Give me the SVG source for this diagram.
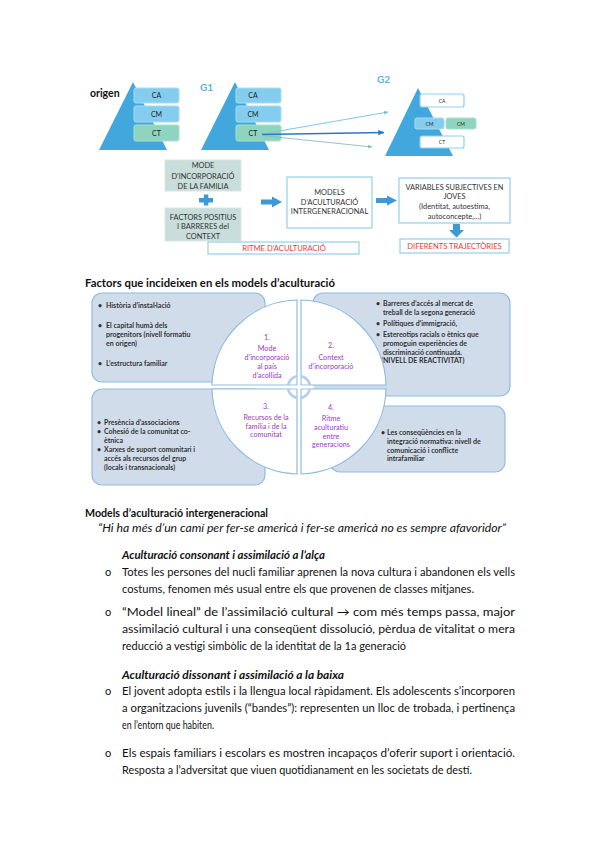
<svg xmlns="http://www.w3.org/2000/svg" width="599" height="848" viewBox="0 0 599 848">
<defs>
<style>
.t{font-family:Lato,"Liberation Sans",sans-serif;}
.tri{fill:#41a7dd;}
.bx{fill:#84cdef;stroke:#a8dcf3;stroke-width:1;}
.bg{fill:#8fd4be;stroke:#a9e0cd;stroke-width:1;}
.bw{fill:#ffffff;stroke:#8ccfee;stroke-width:1.2;}
.lbl{font-family:Lato,"Liberation Sans",sans-serif;font-size:7px;fill:#222;text-anchor:middle;}
.lbs{font-family:Lato,"Liberation Sans",sans-serif;font-size:5px;fill:#222;text-anchor:middle;}
.gb{fill:#c9ddda;stroke:#d7e6e4;stroke-width:1;}
.fb{fill:#ffffff;stroke:#9cd2ef;stroke-width:1.3;}
.ft{font-family:Lato,"Liberation Sans",sans-serif;font-size:7.4px;fill:#333;text-anchor:middle;}
.rt{font-family:Lato,"Liberation Sans",sans-serif;font-size:7.6px;fill:#ee3a3a;text-anchor:middle;}
.blk{fill:#3d9ad6;}
.pb{fill:#d1dcea;stroke:#8dbbdf;stroke-width:1.2;}
.q{fill:#ffffff;stroke:#8dbde0;stroke-width:1.2;}
.qt{font-family:Lato,"Liberation Sans",sans-serif;font-size:7.2px;fill:#9b38c9;text-anchor:middle;}
.bt{font-family:Lato,"Liberation Sans",sans-serif;font-size:7px;font-weight:bold;fill:#333;}
.body{font-family:Lato,Carlito,"Liberation Sans",sans-serif;font-size:11px;fill:#111;}
.h{font-family:Lato,Carlito,"Liberation Sans",sans-serif;font-size:11px;font-weight:bold;fill:#111;}
.hi{font-family:Lato,Carlito,"Liberation Sans",sans-serif;font-size:11px;font-weight:bold;font-style:italic;fill:#111;}
.it{font-family:Lato,Carlito,"Liberation Sans",sans-serif;font-size:11px;font-style:italic;fill:#111;}
</style>
<marker id="ah1" viewBox="0 0 10 10" refX="9" refY="5" markerWidth="5" markerHeight="5" orient="auto"><path d="M0,1 L10,5 L0,9 z" fill="#6ec1ea"/></marker>
<marker id="ah2" viewBox="0 0 10 10" refX="9" refY="5" markerWidth="4" markerHeight="4" orient="auto"><path d="M0,1 L10,5 L0,9 z" fill="#2e78bd"/></marker>
<marker id="ah3" viewBox="0 0 10 10" refX="9" refY="5" markerWidth="5" markerHeight="5" orient="auto"><path d="M0,1 L10,5 L0,9 z" fill="#86bdbc"/></marker>
</defs>

<!-- Top diagram -->
<g id="origen">
<text x="90" y="97" class="t" font-size="10.5" font-weight="bold" fill="#111">origen</text>
<polygon class="tri" points="133,82 99,150 167,150"/>
<rect class="bx" x="134" y="88" width="45" height="15" rx="2"/>
<rect class="bx" x="134" y="106" width="45" height="16" rx="2"/>
<rect class="bg" x="134" y="125" width="45" height="16" rx="2"/>
<text class="lbl" x="156.5" y="98">CA</text>
<text class="lbl" x="156.5" y="116.5">CM</text>
<text class="lbl" x="156.5" y="135.5">CT</text>
</g>
<g id="g1">
<text x="200" y="91" class="t" font-size="10" font-weight="bold" fill="#5ab4e5">G1</text>
<polygon class="tri" points="235,82 201,150 269,150"/>
<rect class="bx" x="236" y="88" width="45" height="15" rx="2"/>
<rect class="bx" x="236" y="106" width="45" height="16" rx="2"/>
<rect class="bg" x="236" y="125" width="45" height="16" rx="2"/>
<text class="lbl" x="253" y="98">CA</text>
<text class="lbl" x="253" y="116.5">CM</text>
<text class="lbl" x="253" y="135.5">CT</text>
</g>
<g id="g2">
<text x="377" y="83" class="t" font-size="10" font-weight="bold" fill="#5ab4e5">G2</text>
<polygon class="tri" points="418,88 385,156 453,156"/>
<rect class="bw" x="420" y="94" width="44" height="13" rx="2"/>
<rect class="bx" x="415" y="118" width="29" height="11" rx="2"/>
<rect class="bg" x="446" y="118" width="30" height="11" rx="2"/>
<rect class="bw" x="420" y="136" width="44" height="12" rx="2"/>
<text class="lbs" x="442" y="102.5">CA</text>
<text class="lbs" x="429.5" y="125.5">CM</text>
<text class="lbs" x="461" y="125.5">CM</text>
<text class="lbs" x="442" y="144">CT</text>
</g>
<g id="connectors">
<line x1="262" y1="134" x2="388" y2="112" stroke="#6ec1ea" stroke-width="0.9" marker-end="url(#ah1)"/>
<line x1="262" y1="134.5" x2="384" y2="132.5" stroke="#2e78bd" stroke-width="1.6" marker-end="url(#ah2)"/>
<line x1="262" y1="135.5" x2="372" y2="147" stroke="#86bdbc" stroke-width="0.9" marker-end="url(#ah3)"/>
<polygon class="blk" points="261,199.5 272,199.5 272,196.5 282,202 272,207.5 272,204.5 261,204.5"/>
<polygon class="blk" points="376,198 387,198 387,195.5 397,200.5 387,205.5 387,203 376,203"/>
<polygon class="blk" points="453,224 460,224 460,230 464,230 456.5,237.5 449,230 453,230"/>
</g>
<g id="mode">
<rect class="gb" x="165" y="160" width="76" height="31"/>
<text class="ft" x="203" y="168">MODE</text>
<text class="ft" x="203" y="178.5">D’INCORPORACIÓ</text>
<text class="ft" x="203" y="189">DE LA FAMILIA</text>
</g>
<g id="plus">
<rect class="blk" x="199" y="198" width="14" height="4.5"/>
<rect class="blk" x="203.8" y="194.5" width="4.5" height="11"/>
</g>
<g id="factors">
<rect class="gb" x="165" y="208" width="76" height="33"/>
<text class="ft" x="203" y="219.5">FACTORS POSITIUS</text>
<text class="ft" x="203" y="229">I BARRERES del</text>
<text class="ft" x="203" y="238.5">CONTEXT</text>
</g>
<g id="ritme">
<rect class="fb" x="208" y="242" width="151" height="12"/>
<text class="rt" x="284" y="251">RITME D’ACULTURACIÓ</text>
</g>
<g id="models">
<rect class="fb" x="287" y="177" width="85" height="51"/>
<text class="ft" x="329.5" y="195">MODELS</text>
<text class="ft" x="329.5" y="204.5">D’ACULTURACIÓ</text>
<text class="ft" x="329.5" y="214">INTERGENERACIONAL</text>
</g>
<g id="variables">
<rect class="fb" x="399" y="178" width="111" height="45"/>
<text class="ft" x="454.5" y="189.5">VARIABLES SUBJECTIVES EN</text>
<text class="ft" x="454.5" y="199">JOVES</text>
<text class="ft" x="454.5" y="209">(Identitat, autoestima,</text>
<text class="ft" x="454.5" y="218.5">autoconcepte,...)</text>
</g>
<g id="diferents">
<rect class="fb" x="400" y="239" width="109" height="14"/>
<text class="rt" x="454.5" y="249">DIFERENTS TRAJECTÒRIES</text>
</g>

<!-- Factors diagram -->
<text x="85" y="287" class="t" font-size="10.5" font-weight="bold" fill="#111" textLength="250" lengthAdjust="spacingAndGlyphs">Factors que incideixen en els models d’aculturació</text>

<g id="box-tl">
<rect class="pb" x="92" y="293" width="173" height="89" rx="10"/>
<text class="bt" x="98" y="308">•</text><text class="bt" x="106" y="308">Història d’instal·lació</text>
<text class="bt" x="98" y="328">•</text><text class="bt" x="106" y="328">El capital humà dels</text>
<text class="bt" x="106" y="337">progenitors (nivell formatiu</text>
<text class="bt" x="106" y="346">en origen)</text>
<text class="bt" x="98" y="366">•</text><text class="bt" x="106" y="366">L’estructura familiar</text>
</g>
<g id="box-tr">
<rect class="pb" x="313" y="293" width="197" height="103" rx="10"/>
<text class="bt" x="376" y="306">•</text><text class="bt" x="383" y="306">Barreres d’accés al mercat de</text>
<text class="bt" x="383" y="315">treball de la segona generació</text>
<text class="bt" x="376" y="326">•</text><text class="bt" x="383" y="326">Polítiques d’immigració,</text>
<text class="bt" x="376" y="337">•</text><text class="bt" x="383" y="337">Estereotips racials o ètnics que</text>
<text class="bt" x="383" y="346">promoguin experiències de</text>
<text class="bt" x="383" y="354.5">discriminació continuada.</text>
<text class="bt" x="381" y="363">(NIVELL DE REACTIVITAT)</text>
</g>
<g id="box-bl">
<rect class="pb" x="92" y="389" width="173" height="96" rx="10"/>
<text class="bt" x="97" y="424.5">•</text><text class="bt" x="104" y="424.5">Presència d’associacions</text>
<text class="bt" x="97" y="433.5">•</text><text class="bt" x="104" y="433.5">Cohesió de la comunitat co-</text>
<text class="bt" x="104" y="442.5">ètnica</text>
<text class="bt" x="97" y="451.5">•</text><text class="bt" x="104" y="451.5">Xarxes de suport comunitari i</text>
<text class="bt" x="104" y="460.5">accés als recursos del grup</text>
<text class="bt" x="104" y="469.5">(locals i transnacionals)</text>
</g>
<g id="box-br">
<rect class="pb" x="330" y="406" width="175" height="66" rx="10"/>
<text class="bt" x="381" y="434.5">•</text><text class="bt" x="387" y="434.5">Les conseqüències en la</text>
<text class="bt" x="387" y="443.5">integració normativa: nivell de</text>
<text class="bt" x="387" y="452.5">comunicació i conflicte</text>
<text class="bt" x="387" y="461">intrafamiliar</text>
</g>
<g id="q1">
<path class="q" d="M297,385 V300 A87,87 0 0,0 212,385 Z"/>
<text class="qt" x="267" y="340">1.</text>
<text class="qt" x="267" y="351">Mode</text>
<text class="qt" x="267" y="360">d’incorporació</text>
<text class="qt" x="267" y="369">al país</text>
<text class="qt" x="267" y="378">d’acollida</text>
</g>
<g id="q2">
<path class="q" d="M301,385 H386 A87,87 0 0,0 301,300 Z"/>
<text class="qt" x="331" y="348">2.</text>
<text class="qt" x="331" y="360">Context</text>
<text class="qt" x="331" y="369">d’incorporació</text>
</g>
<g id="q3">
<path class="q" d="M297,389 H212 A87,87 0 0,0 297,474 Z"/>
<text class="qt" x="266" y="409">3.</text>
<text class="qt" x="266" y="420">Recursos de la</text>
<text class="qt" x="266" y="429">família i de la</text>
<text class="qt" x="266" y="437">comunitat</text>
</g>
<g id="q4">
<path class="q" d="M301,389 V474 A87,87 0 0,0 386,389 Z"/>
<text class="qt" x="331" y="410">4.</text>
<text class="qt" x="331" y="421">Ritme</text>
<text class="qt" x="331" y="430">aculturatiu</text>
<text class="qt" x="331" y="439">entre</text>
<text class="qt" x="331" y="447">generacions</text>
</g>
<g id="ring">
<circle cx="299" cy="387" r="11" fill="none" stroke="#b3cfea" stroke-width="2.6"/>
<line x1="299" y1="372" x2="299" y2="402" stroke="#ffffff" stroke-width="2.4"/>
<line x1="284" y1="387" x2="314" y2="387" stroke="#ffffff" stroke-width="2.4"/>
</g>

<!-- Text section -->
<text class="h" x="85" y="517" textLength="183" lengthAdjust="spacingAndGlyphs">Models d’aculturació intergeneracional</text>
<text class="it" x="98" y="532" textLength="408" lengthAdjust="spacingAndGlyphs">“Hi ha més d’un camí per fer-se americà i fer-se americà no es sempre afavoridor”</text>

<text class="hi" x="122" y="559" textLength="203" lengthAdjust="spacingAndGlyphs">Aculturació consonant i assimilació a l’alça</text>
<text class="body" x="105" y="576">o</text>
<text class="body" x="122" y="576" textLength="393" lengthAdjust="spacingAndGlyphs">Totes les persones del nucli familiar aprenen la nova cultura i abandonen els vells</text>
<text class="body" x="122" y="593" textLength="352" lengthAdjust="spacingAndGlyphs">costums, fenomen més usual entre els que provenen de classes mitjanes.</text>

<text class="body" x="105" y="616">o</text>
<text class="body" x="122" y="616" textLength="393" lengthAdjust="spacingAndGlyphs">“Model lineal” de l’assimilació cultural → com més temps passa, major</text>
<text class="body" x="122" y="633" textLength="393" lengthAdjust="spacingAndGlyphs">assimilació cultural i una conseqüent dissolució, pèrdua de vitalitat o mera</text>
<text class="body" x="122" y="650" textLength="284" lengthAdjust="spacingAndGlyphs">reducció a vestigi simbòlic de la identitat de la 1a generació</text>

<text class="hi" x="122" y="679" textLength="222" lengthAdjust="spacingAndGlyphs">Aculturació dissonant i assimilació a la baixa</text>
<text class="body" x="105" y="695">o</text>
<text class="body" x="122" y="695" textLength="393" lengthAdjust="spacingAndGlyphs">El jovent adopta estils i la llengua local ràpidament. Els adolescents s’incorporen</text>
<text class="body" x="122" y="712" textLength="393" lengthAdjust="spacingAndGlyphs">a organitzacions juvenils (“bandes”): representen un lloc de trobada, i pertinença</text>
<text class="body" x="122" y="729" textLength="92" lengthAdjust="spacingAndGlyphs">en l’entorn que habiten.</text>

<text class="body" x="105" y="757">o</text>
<text class="body" x="122" y="757" textLength="393" lengthAdjust="spacingAndGlyphs">Els espais familiars i escolars es mostren incapaços d’oferir suport i orientació.</text>
<text class="body" x="122" y="774" textLength="350" lengthAdjust="spacingAndGlyphs">Resposta a l’adversitat que viuen quotidianament en les societats de destí.</text>
</svg>
